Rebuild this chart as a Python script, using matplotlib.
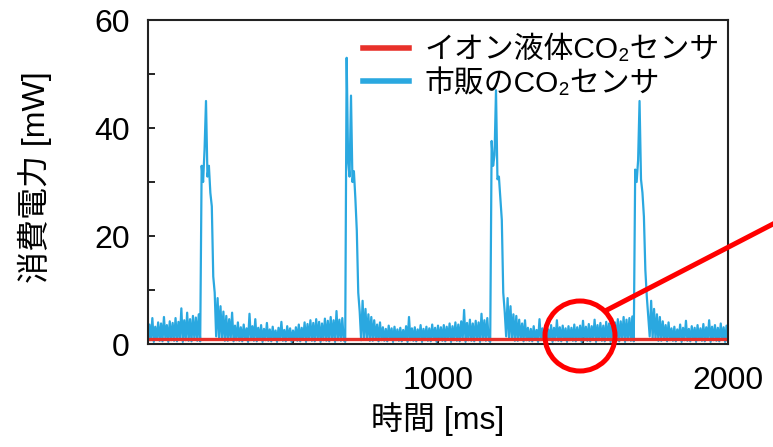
import numpy as np
import matplotlib
matplotlib.use("Agg")
import matplotlib.pyplot as plt
from matplotlib.patches import Ellipse
from matplotlib.lines import Line2D

plt.rcParams['font.family'] = ['Liberation Sans', 'Noto Sans CJK JP', 'DejaVu Sans']

# ---------------- data (mW), sampled every 5 ms ----------------
SAMPLE_MS = 5

base0 = [0.5, 3.6, 0.7, 4.8, 0.4, 3.2, 0.8, 4.0, 0.6, 3.8,
         0.5, 5.0, 0.9, 3.5, 0.4, 4.2, 0.7, 3.9, 0.6, 4.8,
         0.5, 4.1, 0.8, 6.6, 0.4, 4.4, 0.7, 5.8, 0.6, 4.6,
         0.5, 5.2, 0.8, 4.9, 0.6, 5.5, 0.5]
pulse1 = [33, 30, 36, 45, 31, 33, 28, 25.5, 12.5, 9.5, 1.4, 8.5, 1.0, 7.0, 0.8, 6.0, 0.6]
base1 = [5.2, 0.6, 4.6, 0.8, 5.8, 0.5, 3.4, 0.7, 4.0, 0.6,
         3.1, 0.5, 3.6, 0.8, 2.9, 0.4, 5.6, 0.7, 3.3, 0.6,
         4.6, 0.5, 3.0, 0.8, 3.5, 0.4, 2.8, 0.7, 3.9, 0.6,
         2.7, 0.5, 3.2, 0.8, 2.5, 0.4, 3.0, 0.7, 4.1, 0.6,
         2.6, 0.5, 3.3, 0.8, 2.9, 0.4, 2.5, 0.7, 3.1, 0.6,
         3.6, 0.5, 3.0, 0.8, 4.0, 0.4, 3.7, 0.7, 4.4, 0.6,
         3.9, 0.5, 4.6, 0.8, 4.1, 0.4, 3.8, 0.7, 4.7, 0.6,
         4.3, 0.5, 5.0, 0.8, 4.4, 0.4, 6.1, 0.7, 4.5, 0.6,
         4.8, 0.7, 0.4]
pulse2 = [53, 34, 31, 46, 30, 32, 27, 21, 9.5, 6.0, 0.7, 8.0, 1.0, 6.5, 0.8, 5.5, 0.6]
base2 = [5.0, 0.6, 4.4, 0.8, 3.6, 0.5, 4.0, 0.7, 3.1, 0.6,
         2.8, 0.5, 3.4, 0.8, 2.9, 0.4, 3.2, 0.7, 2.7, 0.6,
         3.0, 0.5, 2.6, 0.8, 3.3, 0.4, 5.0, 0.7, 2.9, 0.6,
         3.1, 0.5, 2.7, 0.8, 3.5, 0.4, 2.8, 0.7, 3.2, 0.6,
         2.9, 0.5, 3.6, 0.8, 3.0, 0.4, 3.4, 0.7, 3.1, 0.6,
         3.5, 0.5, 3.2, 0.8, 3.8, 0.4, 3.3, 0.7, 4.0, 0.6,
         3.6, 0.5, 4.2, 0.8, 6.3, 0.4, 3.9, 0.7, 4.5, 0.6,
         3.8, 0.5, 4.3, 0.8, 4.0, 0.4, 5.6, 0.7, 4.4, 0.6,
         4.8, 0.7, 0.4]
pulse3 = [37.6, 33, 35, 47, 30.5, 31, 27, 23, 9.5, 6.0, 1.4, 8.5, 1.0, 7.0, 0.8, 5.5, 0.6]
base3 = [5.2, 0.6, 4.5, 0.8, 3.8, 0.5, 4.4, 0.7, 3.0, 0.6,
         2.8, 0.5, 3.3, 0.8, 2.6, 0.4, 4.6, 0.7, 2.9, 0.6,
         3.2, 0.5, 2.7, 0.8, 3.5, 0.4, 3.0, 0.7, 4.4, 0.6,
         3.1, 0.5, 3.4, 0.8, 2.9, 0.4, 3.3, 0.7, 3.0, 0.6,
         3.6, 0.5, 3.1, 0.8, 3.4, 0.4, 4.3, 0.7, 3.2, 0.6,
         3.7, 0.5, 3.3, 0.8, 4.5, 0.4, 3.5, 0.7, 3.9, 0.6,
         3.4, 0.5, 4.1, 0.8, 3.8, 0.4, 4.4, 0.7, 4.0, 0.6,
         4.6, 0.5, 4.2, 0.8, 5.0, 0.4, 4.5, 0.7, 4.8, 0.6,
         5.1, 0.5]
pulse4 = [32.3, 30, 34, 45, 30.5, 28, 23.6, 13.7, 8.8, 5.0, 1.4, 8.0, 1.0, 6.5, 0.8, 5.5, 0.6]
base4 = [5.0, 0.6, 4.2, 0.8, 3.5, 0.5, 4.0, 0.7, 2.9, 0.6,
         3.2, 0.5, 2.7, 0.8, 3.6, 0.4, 3.0, 0.7, 4.3, 0.6,
         2.8, 0.5, 3.3, 0.8, 3.0, 0.4, 3.5, 0.7, 2.9, 0.6,
         3.7, 0.5, 3.1, 0.8, 4.4, 0.4, 3.2, 0.7, 3.5, 0.6,
         3.0, 0.5, 3.8, 0.8, 3.1, 0.4, 3.4, 0.6]

commercial_mw = np.array(base0 + pulse1 + base1 + pulse2 + base2 + pulse3
                         + base3 + pulse4 + base4, dtype=float)
time_ms = np.arange(len(commercial_mw)) * SAMPLE_MS

ionic_t = [0, 2000]
ionic_mw = [0.9, 0.9]

label_ionic = 'イオン液体CO₂センサ'
label_comm = '市販のCO₂センサ'
xticks = [0, 500, 1000, 1500, 2000]
xticklabels = ['', '', '1000', '', '2000']
yticks = [0, 10, 20, 30, 40, 50, 60]
yticklabels = ['0', '', '20', '', '40', '', '60']

BLUE = '#2AA8E0'
RED = '#E8312A'

# ---------------- figure ----------------
W, H = 773, 447
fig = plt.figure(figsize=(W / 100, H / 100), dpi=100)
ax = fig.add_axes([148 / W, 103 / H, 580 / W, 324 / H])

l_comm, = ax.plot(time_ms, commercial_mw, color=BLUE, lw=1.6, label=label_comm)
l_ion, = ax.plot(ionic_t, ionic_mw, color=RED, lw=2.4, label=label_ionic)

ax.set_xlim(0, 2000)
ax.set_ylim(0, 60)
ax.set_xticks(xticks)
ax.set_xticklabels(xticklabels)
ax.set_yticks(yticks)
ax.set_yticklabels(yticklabels)
ax.tick_params(direction='in', length=5, width=1.2, labelsize=23, colors='black')
ax.tick_params(axis='y', pad=13)
ax.tick_params(axis='x', pad=16)
for s in ax.spines.values():
    s.set_linewidth(1.5)
    s.set_color('#222222')

ax.set_ylabel('消費電力 [mW]', fontsize=23)
ax.yaxis.set_label_coords(-0.165, 0.515)
ax.set_xlabel('時間 [ms]', fontsize=23)
ax.xaxis.set_label_coords(0.5, -0.18)

leg = ax.legend([l_ion, l_comm], [label_ionic, label_comm],
                loc='upper left', bbox_to_anchor=(363 / W, 1 - 36 / H),
                bbox_transform=fig.transFigure, frameon=False,
                fontsize=21.5, handlelength=1.55, handletextpad=0.5,
                labelspacing=0.15, borderpad=0, borderaxespad=0)
for h in leg.get_lines():
    h.set_linewidth(4)

# red annotation circle + pointer line
circ = Ellipse((580 / W, 1 - 336 / H), 70 / W, 70 / H, transform=fig.transFigure,
               fill=False, edgecolor='#FF0000', lw=3.6, zorder=10)
fig.add_artist(circ)
fig.add_artist(Line2D([607 / W, 1.0], [1 - 310 / H, 1 - 224 / H],
                      transform=fig.transFigure, color='#FF0000', lw=3.6, zorder=10))

fig.savefig('out.png', dpi=100)
